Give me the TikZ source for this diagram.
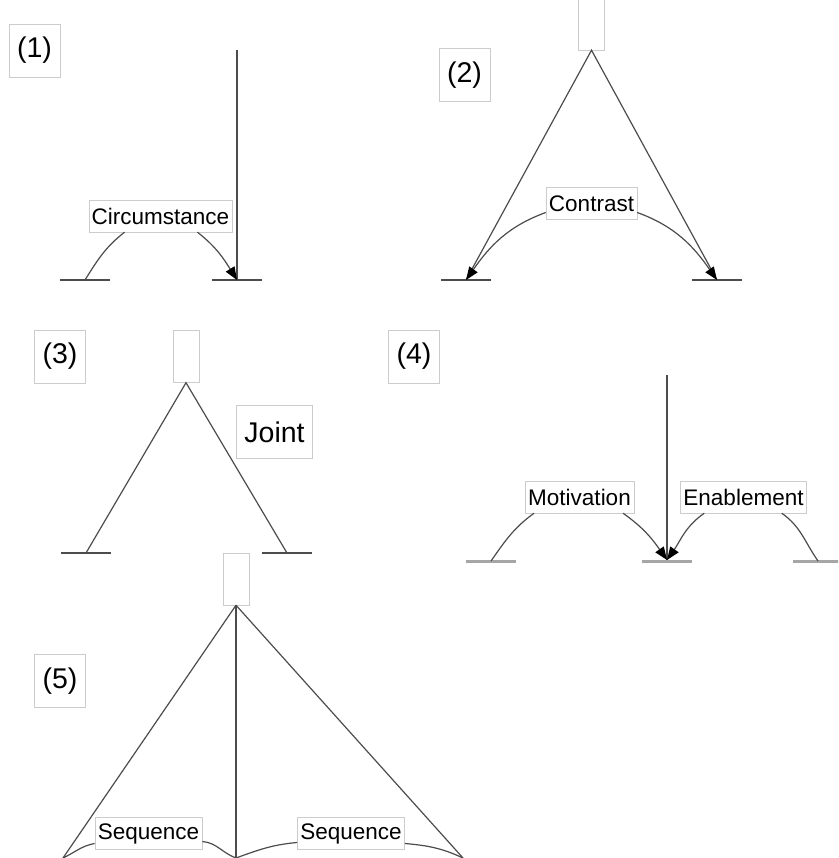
\documentclass[tikz,border=0pt]{standalone}
\usepackage{fontspec}
\setmainfont{Liberation Sans}
\usetikzlibrary{arrows.meta}

\begin{document}
\begin{tikzpicture}[x=1pt,y=-1pt,
	lbl/.style={draw=black!20,fill=white,font=\fontsize{22.5}{27}\selectfont,inner xsep=3pt,inner ysep=0pt,minimum height=32pt},
	numbox/.style={draw=black!20,fill=white,font=\fontsize{28.5}{34}\selectfont,inner xsep=8pt,inner ysep=0pt,minimum height=53pt},
	topbox/.style={draw=black!20,fill=white,minimum width=26pt,minimum height=52pt,inner sep=0pt},
	ln/.style={black!70,line width=1.2pt},
	gr/.style={black!70,line width=1.2pt},
	grl/.style={black!35,line width=3pt},
	arr/.style={-{Triangle[length=13pt,width=10pt,color=black]}}]

	\clip (0,0) rectangle (838,858);

	\node[numbox] (n1) at (34.5,50.5) {(1)};
	\coordinate (t1) at (237,50);
	\coordinate (g1l) at (85,280);
	\coordinate (g1r) at (237,280);
	\draw[gr] ([xshift=-25pt]g1l) -- ([xshift=25pt]g1l);
	\draw[gr] ([xshift=-25pt]g1r) -- ([xshift=25pt]g1r);
	\draw[ln] (t1) -- (g1r);
	\node[lbl] (circ) at (160.5,216) {Circumstance};
	\draw[ln] (g1l) to[out=58,in=218] ([xshift=36pt]circ.south west);
	\draw[ln,arr] ([xshift=-35pt]circ.south east) to[out=-38,in=122] (g1r);

	\node[numbox] (n2) at (464.5,75) {(2)};
	\node[topbox] (b2) at (591.5,24) {};
	\coordinate (g2l) at (466,280);
	\coordinate (g2r) at (717,280);
	\draw[gr] ([xshift=-25pt]g2l) -- ([xshift=25pt]g2l);
	\draw[gr] ([xshift=-25pt]g2r) -- ([xshift=25pt]g2r);
	\draw[ln] (g2l) -- (b2.south) -- (g2r);
	\node[lbl] (con) at (591.5,203.5) {Contrast};
	\draw[ln,arr] ([yshift=-9pt]con.west) to[out=200,in=55] (g2l);
	\draw[ln,arr] ([yshift=-9pt]con.east) to[out=-20,in=125] (g2r);

	\node[numbox] (n3) at (60,356.5) {(3)};
	\node[topbox] (b3) at (186,356.5) {};
	\coordinate (g3l) at (86,553);
	\coordinate (g3r) at (287,553);
	\draw[gr] ([xshift=-25pt]g3l) -- ([xshift=25pt]g3l);
	\draw[gr] ([xshift=-25pt]g3r) -- ([xshift=25pt]g3r);
	\draw[ln] (g3l) -- (b3.south) -- (g3r);
	\node[numbox] (joint) at (274.5,432) {Joint};

	\node[numbox] (n4) at (414,356.5) {(4)};
	\coordinate (t4) at (667,375);
	\coordinate (g4l) at (491,561);
	\coordinate (g4m) at (667,560);
	\coordinate (g4r) at (818,561);
	\draw[grl] ([xshift=-25pt]g4l) -- ([xshift=25pt]g4l);
	\draw[grl] ([xshift=-25pt,yshift=-1pt]g4m) -- ([xshift=25pt,yshift=-1pt]g4m);
	\draw[grl] ([xshift=-25pt]g4r) -- ([xshift=25pt]g4r);
	\draw[ln] (t4) -- (g4m);
	\node[lbl] (mot) at (579.5,497) {Motivation};
	\node[lbl] (ena) at (743.5,497) {Enablement};
	\draw[ln] (g4l) to[out=55,in=216] ([xshift=9pt]mot.south west);
	\draw[ln,arr] ([xshift=-11pt]mot.south east) to[out=-35,in=125] (g4m);
	\draw[ln,arr] ([xshift=24pt]ena.south west) to[out=215,in=55] (g4m);
	\draw[ln] ([xshift=-25pt]ena.south east) to[out=-35,in=125] (g4r);

	\node[numbox] (n5) at (60,681) {(5)};
	\node[topbox] (b5) at (236,579) {};
	\coordinate (g5l) at (63,858);
	\coordinate (g5m) at (236,858);
	\coordinate (g5r) at (463,858);
	\draw[ln] (b5.south) -- (g5l);
	\draw[ln] (b5.south) -- (g5m);
	\draw[ln] (b5.south) -- (g5r);
	\node[lbl] (seq1) at (148.5,833.5) {Sequence};
	\node[lbl] (seq2) at (351,833.5) {Sequence};
	\draw[ln] ([yshift=-10pt]seq1.west) to[out=190,in=25] (g5l);
	\draw[ln] ([yshift=-8pt]seq1.east) to[out=-5,in=160] (g5m);
	\draw[ln] ([yshift=-9pt]seq2.west) to[out=185,in=20] (g5m);
	\draw[ln] ([yshift=-10pt]seq2.east) to[out=-5,in=155] (g5r);
\end{tikzpicture}
\end{document}
